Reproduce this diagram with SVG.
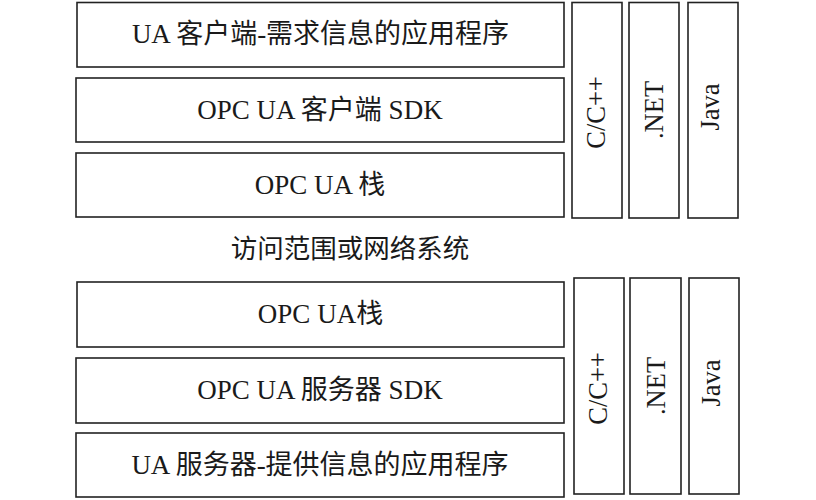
<svg xmlns="http://www.w3.org/2000/svg" width="816" height="500" viewBox="0 0 816 500">
<style>
.box{fill:#fff;stroke:#222;stroke-width:1.6}
.t{font-family:"Liberation Serif","Noto Sans CJK SC",serif;font-size:26.5px;fill:#1a1a1a;text-anchor:middle}
.b{font-size:27px}
</style>
<rect width="816" height="500" fill="#fff"/>
<g id="client-app"><rect class="box" x="77" y="2.5" width="487" height="64.5"/><text class="t b" x="320.5" y="43">UA 客户端-需求信息的应用程序</text></g>
<g id="client-sdk"><rect class="box" x="76" y="78" width="488" height="64"/><text class="t b" x="320" y="118.5">OPC UA 客户端 SDK</text></g>
<g id="client-stack"><rect class="box" x="76" y="153" width="488" height="64"/><text class="t b" x="320" y="193.5">OPC UA 栈</text></g>
<g id="client-cpp"><rect class="box" x="572" y="2.5" width="50" height="215.5"/><text class="t" transform="translate(605,112.5) rotate(-90)">C/C++</text></g>
<g id="client-net"><rect class="box" x="629" y="2.5" width="50" height="215.5"/><text class="t" transform="translate(663,110) rotate(-90)">.NET</text></g>
<g id="client-java"><rect class="box" x="688" y="2.5" width="50" height="215.5"/><text class="t" transform="translate(719,107) rotate(-90)">Java</text></g>
<g id="network"><text class="t" x="350" y="258">访问范围或网络系统</text></g>
<g id="server-stack"><rect class="box" x="77" y="282" width="487" height="65"/><text class="t b" x="320.5" y="322.5">OPC UA栈</text></g>
<g id="server-sdk"><rect class="box" x="76" y="358" width="488" height="65"/><text class="t b" x="320" y="398.5">OPC UA 服务器 SDK</text></g>
<g id="server-app"><rect class="box" x="76" y="433" width="488" height="64"/><text class="t b" x="320" y="473.5">UA 服务器-提供信息的应用程序</text></g>
<g id="server-cpp"><rect class="box" x="574" y="278" width="50" height="216"/><text class="t" transform="translate(607,388.5) rotate(-90)">C/C++</text></g>
<g id="server-net"><rect class="box" x="630" y="278" width="51" height="216"/><text class="t" transform="translate(664.5,386) rotate(-90)">.NET</text></g>
<g id="server-java"><rect class="box" x="689" y="278" width="50" height="216"/><text class="t" transform="translate(720,383) rotate(-90)">Java</text></g>
<g id="connectors"/>
</svg>
